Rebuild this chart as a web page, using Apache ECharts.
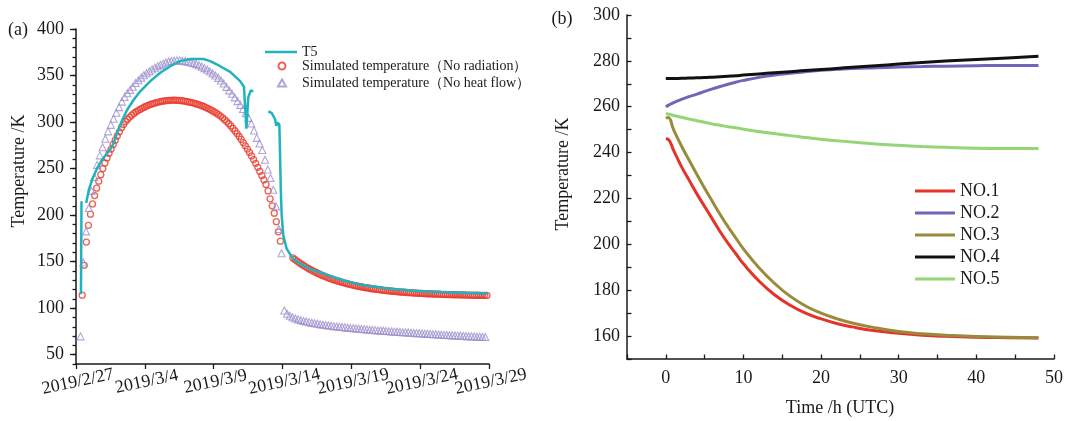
<!DOCTYPE html>
<html>
<head>
<meta charset="utf-8">
<script src="https://cdn.jsdelivr.net/npm/echarts@6/dist/echarts.min.js"></script>
<style>
  html, body { margin: 0; padding: 0; background: #fff; }
  #chart { width: 1066px; height: 421px; }
</style>
</head>
<body>
<div id="chart"></div>
<script>
// (a) days counted from 2019/2/27 00:00
const dateTicks = ['2019/2/27', '2019/3/4', '2019/3/9', '2019/3/14', '2019/3/19', '2019/3/24', '2019/3/29']
const dayTicksEven = [0, 10, 20, 30]
const dayTicksOdd = [5, 15, 25]
const tempTicksA = [50, 100, 150, 200, 250, 300, 350, 400]

const t5Day = [0.36, 0.40, null,
  0.74, 0.93, 1.17, 1.54, 1.90, 2.26, 2.50, 2.62, 2.74, 2.98,
  3.35, 3.71, 4.19, 4.67, 5.40, 6.12, 6.85, 7.57, 8.30, 9.26,
  9.75, 10.47, 11.20, 11.92, 12.20, 12.38, 12.45, 12.52, 12.70, 12.88, null,
  13.97, 14.22, 14.46, 14.55, 14.65, 14.77, 14.82, 14.87, 14.94, 15.06,
  15.30, 15.55, 15.78, 16.10, 16.50, 17.05, 17.60, 18.20, 18.80, 19.55,
  20.60, 21.50, 22.50, 23.50, 24.55, 25.50, 26.50, 27.50, 28.50, 29.90]
const t5Temp = [115, 215, null,
  213, 227, 238, 250.5, 259.5, 266.5, 271, 274, 277.5, 288,
  302, 313, 324, 333, 344, 353, 360, 365.5, 367.8, 367.8,
  365.5, 360, 354, 344, 338, 293, 312, 327, 334, 333, null,
  311.5, 309.5, 303, 296, 299.5, 297, 267, 231, 200, 178,
  164, 158, 153, 149.5, 146, 142, 139, 136, 133, 129.5,
  125.5, 123.5, 121.5, 120, 118.8, 118, 117.3, 116.8, 116.4, 115.8]

// simulated output, one sample every 0.15 day from day 0.45 (null = missing)
const noRadStart = 0.45
const noRadStep = 0.15
const noRadTemp = [
  114, 146, 171, 189, 201, 212, 221, 229, 236.5, 243.5,
  250, 256, 261.5, 266.5, 271, 276, 280.5, 285, 289.5, 294,
  297.5, 300.5, 303, 305.3, 307.4, 309.3, 310.9, 312.3, 313.6, 314.8,
  315.9, 317, 318, 318.9, 319.6, 320.3, 320.9, 321.5, 322, 322.4,
  322.8, 323.1, 323.3, 323.4, 323.5, 323.5, 323.4, 323.2, 323, 322.7,
  322.3, 321.9, 321.4, 320.9, 320.4, 319.7, 319, 318.3, 317.5, 316.6,
  315.6, 314.5, 313.4, 312.2, 310.9, 309.5, 308, 306.4, 304.6, 302.6,
  300.5, 298.2, 295.8, 293.2, 290.5, 287.6, 284.5, 281.3, 278, 274.5,
  271, 267.4, 263.6, 259.7, 255.6, 251.4, 247, 242.5, 237.8, 233,
  226, 217.5, 210, 202, 193, 182, 172, null, null, null,
  null, null, 154, 152.3, 150.6, 149.1, 147.5, 146.1, 144.7, 143.4,
  142.1, 140.9, 139.7, 138.6, 137.5, 136.5, 135.5, 134.6, 133.7, 132.8,
  132, 131.2, 130.4, 129.7, 129, 128.3, 127.7, 127, 126.5, 125.9,
  125.3, 124.8, 124.3, 123.9, 123.4, 123, 122.5, 122.1, 121.8, 121.4,
  121, 120.7, 120.4, 120.1, 119.8, 119.5, 119.2, 119, 118.7, 118.5,
  118.2, 118, 117.8, 117.6, 117.4, 117.2, 117.1, 116.9, 116.7, 116.6,
  116.4, 116.3, 116.1, 116, 115.9, 115.8, 115.6, 115.5, 115.4, 115.3,
  115.2, 115.1, 115, 115, 114.9, 114.8, 114.7, 114.6, 114.6, 114.5,
  114.4, 114.4, 114.3, 114.3, 114.2, 114.2, 114.1, 114.1, 114, 114,
  113.9, 113.9, 113.9, 113.8, 113.8, 113.8, 113.7]

// one sample every 0.2 day from day 0.33
const noHeatStart = 0.33
const noHeatStep = 0.2
const noHeatTemp = [
  69.7, 149, 182.5, 207.6, 226, 241, 254, 264.2, 273, 282,
  290, 297, 303.5, 310, 316, 322, 327, 331, 334.6, 338,
  342, 345, 347.8, 350.3, 352.5, 354.5, 356.4, 358.3, 360, 361.5,
  362.8, 364, 365, 365.6, 366, 366.3, 366.3, 366, 365.5, 364.8,
  364, 363.3, 362.3, 361, 359.6, 358, 356.2, 354.4, 352.3, 350,
  347.5, 344.7, 341.5, 337.8, 334, 330.4, 326.5, 322.5, 318.5, 314,
  309.5, 304.5, 298.5, 291, 283, 277, 270, 259.5, 249, 240,
  227.3, 209.4, 185, 159, 97.5, 94, 91.8, 90.2, 89, 88,
  87.1, 86.3, 85.6, 85, 84.4, 83.8, 83.3, 82.8, 82.3, 81.9,
  81.5, 81.1, 80.7, 80.4, 80, 79.7, 79.4, 79.1, 78.8, 78.5,
  78.2, 77.9, 77.6, 77.4, 77.1, 76.9, 76.6, 76.4, 76.1, 75.9,
  75.7, 75.4, 75.2, 75, 74.8, 74.6, 74.4, 74.2, 74, 73.8,
  73.6, 73.4, 73.2, 73, 72.8, 72.6, 72.4, 72.2, 72.1, 71.9,
  71.7, 71.5, 71.3, 71.2, 71, 70.8, 70.7, 70.5, 70.3, 70.2,
  70, 69.9, 69.7, 69.6, 69.4, 69.3, 69.1, 69]

// (b)
const hourTicks = [0, 10, 20, 30, 40, 50]
const tempTicksB = [160, 180, 200, 220, 240, 260, 280, 300]
const hours = [0, 0.3, 1, 2, 3, 4, 5, 6, 7, 8, 9, 10, 12, 14, 16, 18, 20, 22, 24, 27, 30, 33, 36, 40, 44, 48]
const no1 = [246, 245.8, 241, 234, 228, 222, 216.5, 211, 205.5, 200.5, 196, 191.5, 184, 178, 173.5, 170, 167.5, 165.5, 164, 162.3, 161.2, 160.4, 159.9, 159.5, 159.3, 159.2]
const no2 = [260, 260.6, 261.8, 263.2, 264.4, 265.5, 266.7, 267.8, 268.8, 269.8, 270.7, 271.5, 272.8, 273.8, 274.6, 275.3, 275.9, 276.3, 276.7, 277, 277.3, 277.5, 277.7, 277.9, 278, 278]
const no3 = [255, 255.3, 250, 243, 236.7, 230.5, 224.5, 218.7, 213, 207.7, 202.8, 198, 189.8, 183, 177.4, 173.1, 170, 167.6, 165.7, 163.6, 162, 161, 160.4, 159.8, 159.5, 159.3]
const no4 = [272.3, 272.3, 272.3, 272.4, 272.5, 272.6, 272.7, 272.9, 273.1, 273.3, 273.5, 273.8, 274.3, 274.8, 275.3, 275.8, 276.2, 276.7, 277.2, 277.9, 278.6, 279.3, 279.9, 280.6, 281.3, 282]
const no5 = [257, 256.8, 256.2, 255.4, 254.6, 253.9, 253.2, 252.5, 251.9, 251.3, 250.8, 250.2, 249.2, 248.3, 247.4, 246.6, 245.8, 245.2, 244.6, 243.8, 243.2, 242.7, 242.3, 241.9, 241.8, 241.8]

const FONT = '"Liberation Serif", "Times New Roman", serif'
const INK = '#1a1a1a'
const NO_RAD = 'Simulated temperature（No radiation）'
const NO_HEAT = 'Simulated temperature（No heat flow）'
const LINE_COLORS = { 'T5': '#1fb3c0', 'NO.1': '#e5332a', 'NO.2': '#7065b9', 'NO.3': '#9a8a3c', 'NO.4': '#111111', 'NO.5': '#95d477' }

const sampled = (start, step, values) =>
  values.map((v, i) => [start + step * i, v]).filter(p => p[1] !== null)
const t5Points = t5Day.map((d, i) => (d === null ? ['-', '-'] : [d, t5Temp[i]]))
const hourPoints = values => hours.map((h, i) => [h, values[i]])

const label = extra => Object.assign({ fontFamily: FONT, fontSize: 18, color: INK, hideOverlap: false }, extra)
const axisLine = show => ({ show, onZero: false, lineStyle: { color: INK, width: 1.5 } })
const tick = (length, inside, extra) =>
  Object.assign({ show: true, length, inside, lineStyle: { color: INK, width: 1.3 } }, extra)
// rotated date labels are split over two axes so none of them gets dropped for overlapping
const dateLabel = values => label({
  customValues: values, rotate: 12, align: 'center', verticalAlign: 'top', margin: 9,
  formatter: v => dateTicks[Math.round(v / 5)],
})
const axis = (gridIndex, position, min, max, rest) => Object.assign({
  gridIndex, type: 'value', position, min, max,
  splitLine: { show: false },
}, rest)

const chart = echarts.init(document.getElementById('chart'))

const option = {
  animation: false,
  backgroundColor: '#fff',
  grid: [
    { left: 76, top: 29, width: 413, height: 335 },
    { left: 627, top: 15, width: 427, height: 344 },
  ],
  xAxis: [
    axis(0, 'bottom', 0, 30, { interval: 5, axisLine: axisLine(true), axisTick: tick(5, false), axisLabel: dateLabel(dayTicksEven) }),
    axis(0, 'bottom', 0, 30, { axisLine: axisLine(false), axisTick: { show: false }, axisLabel: dateLabel(dayTicksOdd) }),
    axis(1, 'bottom', -5, 50, { interval: 5, axisLine: axisLine(true), axisTick: tick(4.5, true), axisLabel: label({ customValues: hourTicks, margin: 10 }) }),
  ],
  yAxis: [
    axis(0, 'left', 40, 400, { axisLine: axisLine(true), axisTick: tick(6, false, { customValues: tempTicksA }), axisLabel: label({ customValues: tempTicksA, margin: 12 }) }),
    axis(0, 'left', 40, 400, { interval: 10, axisLine: axisLine(false), axisTick: tick(3.5, false), axisLabel: { show: false } }),
    axis(1, 'left', 150, 300, { interval: 10, axisLine: axisLine(true), axisTick: tick(4.5, true), axisLabel: label({ customValues: tempTicksB, margin: 7 }) }),
  ],
  legend: [
    {
      left: 265, top: 45, padding: 0, selectedMode: false,
      itemWidth: 32, itemHeight: 2.5,
      data: [{ name: 'T5', icon: 'rect' }],
      textStyle: { fontFamily: FONT, fontSize: 14, lineHeight: 14, color: INK },
    },
    {
      left: 277, top: 59, orient: 'vertical', padding: 0, selectedMode: false,
      itemWidth: 8, itemHeight: 7, itemGap: 3,
      data: [NO_RAD, NO_HEAT],
      textStyle: { fontFamily: FONT, fontSize: 14, lineHeight: 14, color: INK, padding: [0, 0, 0, 11] },
    },
    {
      left: 915, top: 182, orient: 'vertical', padding: 0, selectedMode: false,
      itemWidth: 40, itemHeight: 3, itemGap: 4,
      data: ['NO.1', 'NO.2', 'NO.3', 'NO.4', 'NO.5'].map(name => ({ name, icon: 'rect' })),
      textStyle: { fontFamily: FONT, fontSize: 18, lineHeight: 18, color: INK },
    },
  ],
  graphic: [
    { type: 'text', x: 18, y: 30, style: { text: '(a)', fontFamily: FONT, fontSize: 18, fill: INK, align: 'center', verticalAlign: 'middle' } },
    { type: 'text', x: 562, y: 19, style: { text: '(b)', fontFamily: FONT, fontSize: 18, fill: INK, align: 'center', verticalAlign: 'middle' } },
    { type: 'text', x: 19, y: 171, rotation: Math.PI / 2, style: { text: 'Temperature /K', fontFamily: FONT, fontSize: 18, fill: INK, align: 'center', verticalAlign: 'middle' } },
    { type: 'text', x: 563, y: 174, rotation: Math.PI / 2, style: { text: 'Temperature /K', fontFamily: FONT, fontSize: 18, fill: INK, align: 'center', verticalAlign: 'middle' } },
    { type: 'text', x: 840, y: 408, style: { text: 'Time /h (UTC)', fontFamily: FONT, fontSize: 18, fill: INK, align: 'center', verticalAlign: 'middle' } },
  ],
  series: [
    {
      name: 'T5', type: 'line', xAxisIndex: 0, yAxisIndex: 0,
      data: t5Points, symbol: 'none', connectNulls: false,
      lineStyle: { color: LINE_COLORS['T5'], width: 2.5 },
      itemStyle: { color: LINE_COLORS['T5'] },
    },
    {
      name: NO_RAD, type: 'scatter', xAxisIndex: 0, yAxisIndex: 0,
      data: sampled(noRadStart, noRadStep, noRadTemp),
      symbol: 'circle', symbolSize: 6,
      itemStyle: { color: 'rgba(0,0,0,0)', borderColor: '#e8392c', borderWidth: 1.3 },
    },
    {
      name: NO_HEAT, type: 'scatter', xAxisIndex: 0, yAxisIndex: 0,
      data: sampled(noHeatStart, noHeatStep, noHeatTemp),
      symbol: 'triangle', symbolSize: 7,
      itemStyle: { color: 'rgba(0,0,0,0)', borderColor: '#9d8ecd', borderWidth: 1.1 },
    },
    ...[['NO.1', no1], ['NO.2', no2], ['NO.3', no3], ['NO.4', no4], ['NO.5', no5]].map(([name, values]) => ({
      name, type: 'line', xAxisIndex: 2, yAxisIndex: 2,
      data: hourPoints(values), smooth: true, symbol: 'none',
      lineStyle: { color: LINE_COLORS[name], width: 3 },
      itemStyle: { color: LINE_COLORS[name] },
    })),
  ],
}

chart.setOption(option)
</script>
</body>
</html>
